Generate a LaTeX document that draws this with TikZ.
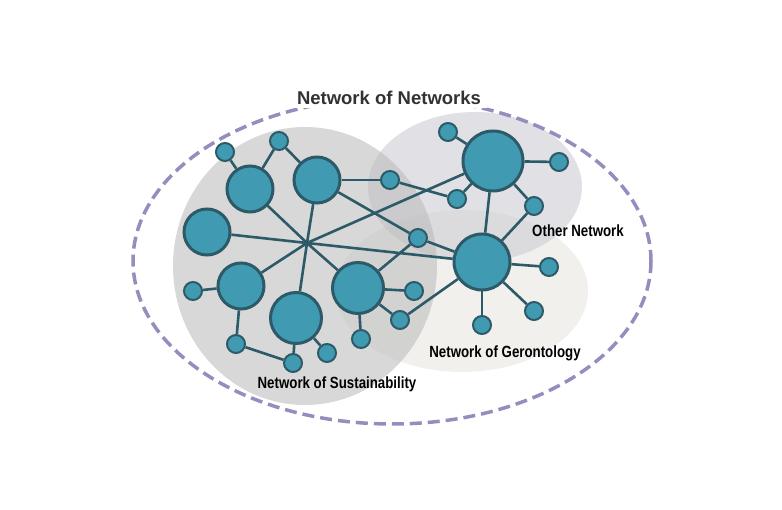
\documentclass[tikz,border=0pt]{standalone}
\usepackage{fontspec}
\setmainfont{Liberation Sans}
\newfontfamily\narrowfont{Liberation Sans}[FakeStretch=0.82]
\usepackage{xcolor}
\usetikzlibrary{positioning}
\definecolor{tealnode}{RGB}{64,155,178}
\definecolor{tealedge}{RGB}{45,90,104}
\definecolor{dashpurple}{RGB}{150,140,190}
\definecolor{sustgray}{RGB}{190,190,190}
\definecolor{othergray}{RGB}{200,200,208}
\definecolor{gerogray}{RGB}{228,226,218}
\definecolor{textgray}{RGB}{50,50,50}

\begin{document}
\begin{tikzpicture}[x=1pt, y=-1pt,
  bignode/.style={circle, draw=tealedge, fill=tealnode, line width=3pt, minimum size=#1, inner sep=0pt},
  smallnode/.style={circle, draw=tealedge, fill=tealnode, line width=2pt, minimum size=18pt, inner sep=0pt},
  link/.style={tealedge, line width=2.6pt},
  netlabel/.style={font=\narrowfont\bfseries\fontsize{16.2}{18}\selectfont, text=black, inner sep=1pt}]
  \useasboundingbox (0,0) rectangle (782,510);

  % Network regions
  \fill[gerogray, fill opacity=0.5] (462,291) ellipse [x radius=126, y radius=81];
  \fill[othergray, fill opacity=0.55] (475,187) ellipse [x radius=107, y radius=75];
  \fill[sustgray, fill opacity=0.6] (305,266) ellipse [x radius=132, y radius=139];

  % Outer network
  \draw[dashpurple, line width=3.5pt, dash pattern=on 12pt off 6pt] (392,261) ellipse [x radius=259, y radius=163];
  \node[fill=white, text=textgray, font=\bfseries\fontsize{18.5}{21}\selectfont, inner xsep=6pt] (title) at (389,98) {Network of Networks};

  % Hubs
  \node[bignode=46pt] (A) at (250,189) {};
  \node[bignode=46pt] (B) at (317,180) {};
  \node[bignode=46pt] (C) at (207,232) {};
  \node[bignode=46pt] (D) at (241,286) {};
  \node[bignode=51pt] (E) at (296,318) {};
  \node[bignode=51pt] (F) at (358,288) {};
  \node[bignode=60pt] (G) at (493,161) {};
  \node[bignode=56pt] (H) at (482,262) {};
  \coordinate (hub) at (307,243);

  % Small nodes
  \node[smallnode] (s1) at (225,152) {};
  \node[smallnode] (s2) at (279,141) {};
  \node[smallnode] (s3) at (390,180) {};
  \node[smallnode] (s4) at (418,238) {};
  \node[smallnode] (s5) at (193,291) {};
  \node[smallnode] (s6) at (236,344) {};
  \node[smallnode] (s7) at (293,363) {};
  \node[smallnode] (s8) at (327,353) {};
  \node[smallnode] (s9) at (361,339) {};
  \node[smallnode] (s10) at (414,291) {};
  \node[smallnode] (s11) at (400,320) {};
  \node[smallnode] (s12) at (448,132) {};
  \node[smallnode] (s13) at (559,162) {};
  \node[smallnode] (s14) at (457,199) {};
  \node[smallnode] (s15) at (534,206) {};
  \node[smallnode] (s16) at (549,267) {};
  \node[smallnode] (s17) at (534,311) {};
  \node[smallnode] (s18) at (482,325) {};

  % Links
  \foreach \n in {A,B,C,D,E,F,G,H}
    \draw[link] (hub) -- (\n);
  \foreach \a/\b in {A/s1, A/s2, s2/B, B/s3, s3/s14, B/s4, s4/H, s4/F,
                     D/s5, D/s6, s6/s7, E/s7, E/s8, F/s9, F/s10, F/s11, s11/H,
                     G/s12, G/s13, G/s14, G/s15, G/H, s15/H, H/s16, H/s17, H/s18}
    \draw[link] (\a) -- (\b);

  % Labels
  \node[netlabel] (other) at (578,231) {Other Network};
  \node[netlabel] (gero) at (505,353) {Network of Gerontology};
  \node[netlabel] (sust) at (337,384) {Network of Sustainability};
\end{tikzpicture}
\end{document}
